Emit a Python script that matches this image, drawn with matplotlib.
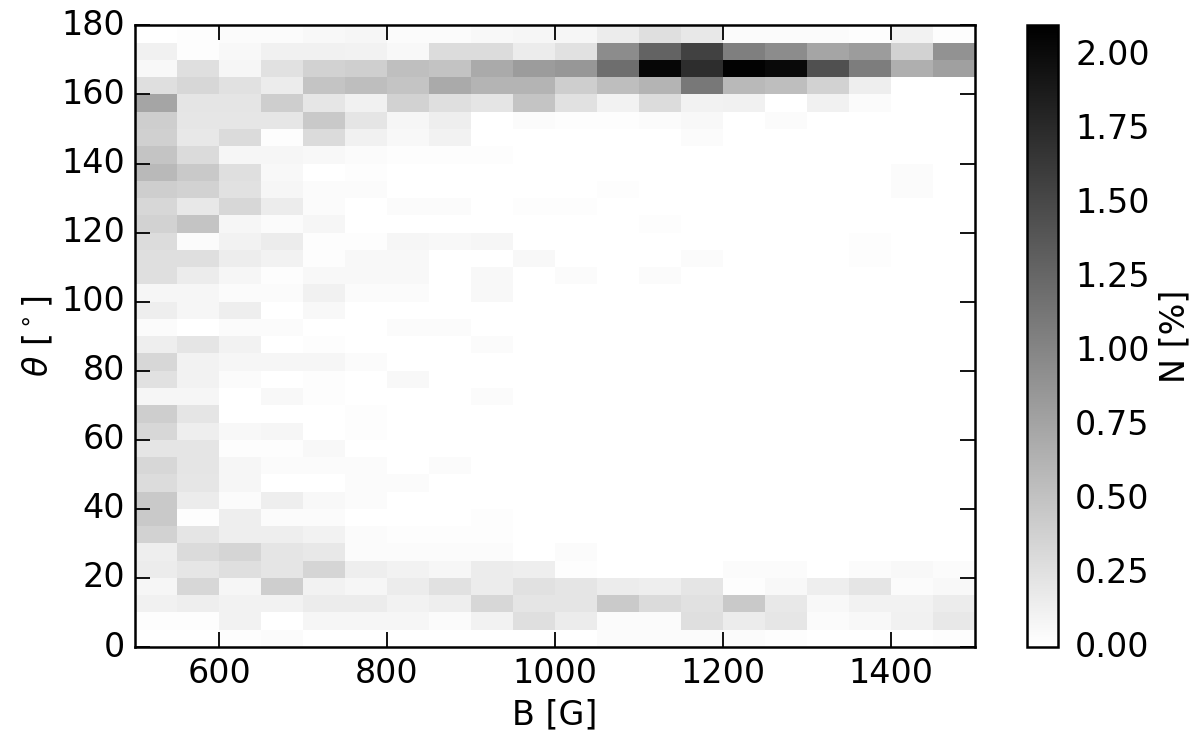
import numpy as np
import matplotlib
matplotlib.use("Agg")
import matplotlib.pyplot as plt

# ------------------------------------------------
#  Data: 2D histogram N [%] of field strength B vs inclination theta
#  rows listed from top (175-180 deg) down to bottom (0-5 deg)
#  columns: B bins of 50 G from 500 to 1500 G
# ------------------------------------------------
b_edges = np.arange(500, 1501, 50)
theta_edges = np.arange(0, 181, 5)

rows_top_down = [
    [0.00, 0.02, 0.04, 0.04, 0.06, 0.08, 0.04, 0.04, 0.06, 0.08, 0.08, 0.16, 0.27, 0.19, 0.04, 0.04, 0.04, 0.02, 0.11, 0.02],  # 175-180
    [0.12, 0.02, 0.06, 0.12, 0.12, 0.11, 0.06, 0.29, 0.29, 0.16, 0.25, 0.95, 1.28, 1.56, 1.05, 0.95, 0.74, 0.82, 0.37, 0.90],  # 170-175
    [0.06, 0.27, 0.08, 0.25, 0.37, 0.40, 0.53, 0.50, 0.70, 0.82, 0.86, 1.19, 2.05, 1.73, 2.08, 2.02, 1.44, 1.07, 0.66, 0.78],  # 165-170
    [0.27, 0.33, 0.25, 0.16, 0.49, 0.54, 0.49, 0.70, 0.62, 0.62, 0.41, 0.54, 0.62, 1.11, 0.58, 0.54, 0.37, 0.14, 0.00, 0.00],  # 160-165
    [0.74, 0.22, 0.22, 0.41, 0.21, 0.12, 0.37, 0.27, 0.22, 0.49, 0.25, 0.11, 0.29, 0.11, 0.12, 0.00, 0.12, 0.04, 0.00, 0.00],  # 155-160
    [0.41, 0.21, 0.21, 0.21, 0.45, 0.22, 0.08, 0.14, 0.00, 0.04, 0.02, 0.02, 0.04, 0.06, 0.00, 0.04, 0.00, 0.00, 0.00, 0.00],  # 150-155
    [0.39, 0.19, 0.30, 0.02, 0.30, 0.12, 0.06, 0.11, 0.00, 0.00, 0.00, 0.00, 0.00, 0.04, 0.00, 0.00, 0.00, 0.00, 0.00, 0.00],  # 145-150
    [0.49, 0.30, 0.08, 0.08, 0.06, 0.04, 0.02, 0.02, 0.02, 0.00, 0.00, 0.00, 0.00, 0.00, 0.00, 0.00, 0.00, 0.00, 0.00, 0.00],  # 140-145
    [0.58, 0.45, 0.27, 0.06, 0.00, 0.02, 0.00, 0.00, 0.00, 0.00, 0.00, 0.00, 0.00, 0.00, 0.00, 0.00, 0.00, 0.00, 0.04, 0.00],  # 135-140
    [0.41, 0.37, 0.25, 0.08, 0.04, 0.04, 0.00, 0.00, 0.00, 0.00, 0.00, 0.02, 0.00, 0.00, 0.00, 0.00, 0.00, 0.00, 0.04, 0.00],  # 130-135
    [0.33, 0.19, 0.33, 0.16, 0.04, 0.00, 0.04, 0.04, 0.00, 0.02, 0.02, 0.00, 0.00, 0.00, 0.00, 0.00, 0.00, 0.00, 0.00, 0.00],  # 125-130
    [0.37, 0.49, 0.08, 0.04, 0.08, 0.00, 0.00, 0.00, 0.00, 0.00, 0.00, 0.00, 0.02, 0.00, 0.00, 0.00, 0.00, 0.00, 0.00, 0.00],  # 120-125
    [0.29, 0.04, 0.11, 0.16, 0.02, 0.02, 0.08, 0.06, 0.08, 0.00, 0.00, 0.00, 0.00, 0.00, 0.00, 0.00, 0.00, 0.02, 0.00, 0.00],  # 115-120
    [0.27, 0.27, 0.15, 0.11, 0.02, 0.06, 0.06, 0.00, 0.00, 0.06, 0.00, 0.00, 0.00, 0.04, 0.00, 0.00, 0.00, 0.02, 0.00, 0.00],  # 110-115
    [0.27, 0.16, 0.08, 0.02, 0.06, 0.06, 0.06, 0.00, 0.06, 0.00, 0.04, 0.00, 0.04, 0.00, 0.00, 0.00, 0.00, 0.00, 0.00, 0.00],  # 105-110
    [0.08, 0.08, 0.04, 0.04, 0.12, 0.04, 0.04, 0.00, 0.06, 0.00, 0.00, 0.00, 0.00, 0.00, 0.00, 0.00, 0.00, 0.00, 0.00, 0.00],  # 100-105
    [0.14, 0.08, 0.14, 0.00, 0.06, 0.00, 0.00, 0.00, 0.00, 0.00, 0.00, 0.00, 0.00, 0.00, 0.00, 0.00, 0.00, 0.00, 0.00, 0.00],  # 95-100
    [0.04, 0.00, 0.04, 0.04, 0.00, 0.00, 0.04, 0.04, 0.00, 0.00, 0.00, 0.00, 0.00, 0.00, 0.00, 0.00, 0.00, 0.00, 0.00, 0.00],  # 90-95
    [0.14, 0.22, 0.11, 0.00, 0.02, 0.00, 0.00, 0.00, 0.04, 0.00, 0.00, 0.00, 0.00, 0.00, 0.00, 0.00, 0.00, 0.00, 0.00, 0.00],  # 85-90
    [0.33, 0.11, 0.08, 0.08, 0.08, 0.04, 0.00, 0.00, 0.00, 0.00, 0.00, 0.00, 0.00, 0.00, 0.00, 0.00, 0.00, 0.00, 0.00, 0.00],  # 80-85
    [0.25, 0.11, 0.04, 0.00, 0.02, 0.00, 0.06, 0.00, 0.00, 0.00, 0.00, 0.00, 0.00, 0.00, 0.00, 0.00, 0.00, 0.00, 0.00, 0.00],  # 75-80
    [0.08, 0.08, 0.00, 0.06, 0.02, 0.00, 0.00, 0.00, 0.04, 0.00, 0.00, 0.00, 0.00, 0.00, 0.00, 0.00, 0.00, 0.00, 0.00, 0.00],  # 70-75
    [0.41, 0.22, 0.00, 0.00, 0.00, 0.02, 0.00, 0.00, 0.00, 0.00, 0.00, 0.00, 0.00, 0.00, 0.00, 0.00, 0.00, 0.00, 0.00, 0.00],  # 65-70
    [0.33, 0.14, 0.06, 0.08, 0.00, 0.02, 0.00, 0.00, 0.00, 0.00, 0.00, 0.00, 0.00, 0.00, 0.00, 0.00, 0.00, 0.00, 0.00, 0.00],  # 60-65
    [0.22, 0.22, 0.02, 0.02, 0.06, 0.00, 0.00, 0.00, 0.00, 0.00, 0.00, 0.00, 0.00, 0.00, 0.00, 0.00, 0.00, 0.00, 0.00, 0.00],  # 55-60
    [0.33, 0.22, 0.08, 0.04, 0.04, 0.04, 0.00, 0.04, 0.00, 0.00, 0.00, 0.00, 0.00, 0.00, 0.00, 0.00, 0.00, 0.00, 0.00, 0.00],  # 50-55
    [0.29, 0.21, 0.08, 0.00, 0.00, 0.04, 0.04, 0.00, 0.00, 0.00, 0.00, 0.00, 0.00, 0.00, 0.00, 0.00, 0.00, 0.00, 0.00, 0.00],  # 45-50
    [0.45, 0.16, 0.04, 0.14, 0.06, 0.04, 0.00, 0.00, 0.00, 0.00, 0.00, 0.00, 0.00, 0.00, 0.00, 0.00, 0.00, 0.00, 0.00, 0.00],  # 40-45
    [0.45, 0.02, 0.14, 0.04, 0.04, 0.00, 0.00, 0.00, 0.02, 0.00, 0.00, 0.00, 0.00, 0.00, 0.00, 0.00, 0.00, 0.00, 0.00, 0.00],  # 35-40
    [0.37, 0.22, 0.14, 0.14, 0.11, 0.04, 0.02, 0.02, 0.02, 0.00, 0.00, 0.00, 0.00, 0.00, 0.00, 0.00, 0.00, 0.00, 0.00, 0.00],  # 30-35
    [0.14, 0.30, 0.35, 0.22, 0.19, 0.04, 0.04, 0.04, 0.04, 0.00, 0.04, 0.00, 0.00, 0.00, 0.00, 0.00, 0.00, 0.00, 0.00, 0.00],  # 25-30
    [0.16, 0.21, 0.27, 0.22, 0.35, 0.14, 0.11, 0.08, 0.16, 0.14, 0.02, 0.00, 0.00, 0.00, 0.04, 0.04, 0.00, 0.04, 0.06, 0.04],  # 20-25
    [0.08, 0.33, 0.08, 0.41, 0.11, 0.08, 0.16, 0.25, 0.16, 0.25, 0.22, 0.16, 0.14, 0.22, 0.02, 0.06, 0.14, 0.22, 0.04, 0.06],  # 15-20
    [0.12, 0.14, 0.11, 0.11, 0.16, 0.16, 0.11, 0.14, 0.33, 0.22, 0.22, 0.44, 0.30, 0.25, 0.45, 0.19, 0.06, 0.11, 0.11, 0.16],  # 10-15
    [0.02, 0.02, 0.11, 0.00, 0.08, 0.08, 0.08, 0.04, 0.11, 0.27, 0.16, 0.04, 0.04, 0.27, 0.16, 0.21, 0.04, 0.06, 0.12, 0.19],  # 5-10
    [0.00, 0.00, 0.02, 0.04, 0.00, 0.00, 0.00, 0.00, 0.00, 0.00, 0.00, 0.04, 0.04, 0.04, 0.04, 0.02, 0.00, 0.00, 0.00, 0.02],  # 0-5
]

N_percent = np.array(rows_top_down)[::-1]   # row 0 = 0-5 deg

VMAX = 2.1
FS = 24

# ------------------------------------------------
#  Plot
# ------------------------------------------------
plt.style.use("classic")
plt.rcParams["font.size"] = FS
plt.rcParams["mathtext.fontset"] = "dejavusans"

fig = plt.figure(figsize=(12, 7.48), dpi=100, facecolor="white")
ax = fig.add_axes([0.1125, 0.135, 0.70, 0.831])
cax = fig.add_axes([0.856, 0.135, 0.026, 0.831])

mesh = ax.pcolormesh(b_edges, theta_edges, N_percent, cmap="gray_r",
                     vmin=0, vmax=VMAX)

ax.set_xlim(500, 1500)
ax.set_ylim(0, 180)
ax.set_xticks([600, 800, 1000, 1200, 1400])
ax.set_yticks(np.arange(0, 181, 20))
ax.tick_params(labelsize=FS, length=11, width=1.3, pad=7)
for sp in ax.spines.values():
    sp.set_linewidth(1.8)

ax.set_xlabel("B [G]", fontsize=FS, labelpad=6)
ax.set_ylabel(r"$\theta$ [$^\circ$]", fontsize=FS, labelpad=4)

cb = fig.colorbar(mesh, cax=cax)
cb.set_ticks(np.arange(0, 2.01, 0.25))
cb.ax.set_yticklabels([f"{t:.2f}" for t in np.arange(0, 2.01, 0.25)])
cb.ax.tick_params(labelsize=FS, length=0, pad=12)
cb.outline.set_linewidth(1.8)
cb.set_label("N [%]", fontsize=FS, labelpad=6)

fig.savefig("out.png", dpi=100, facecolor="white")
